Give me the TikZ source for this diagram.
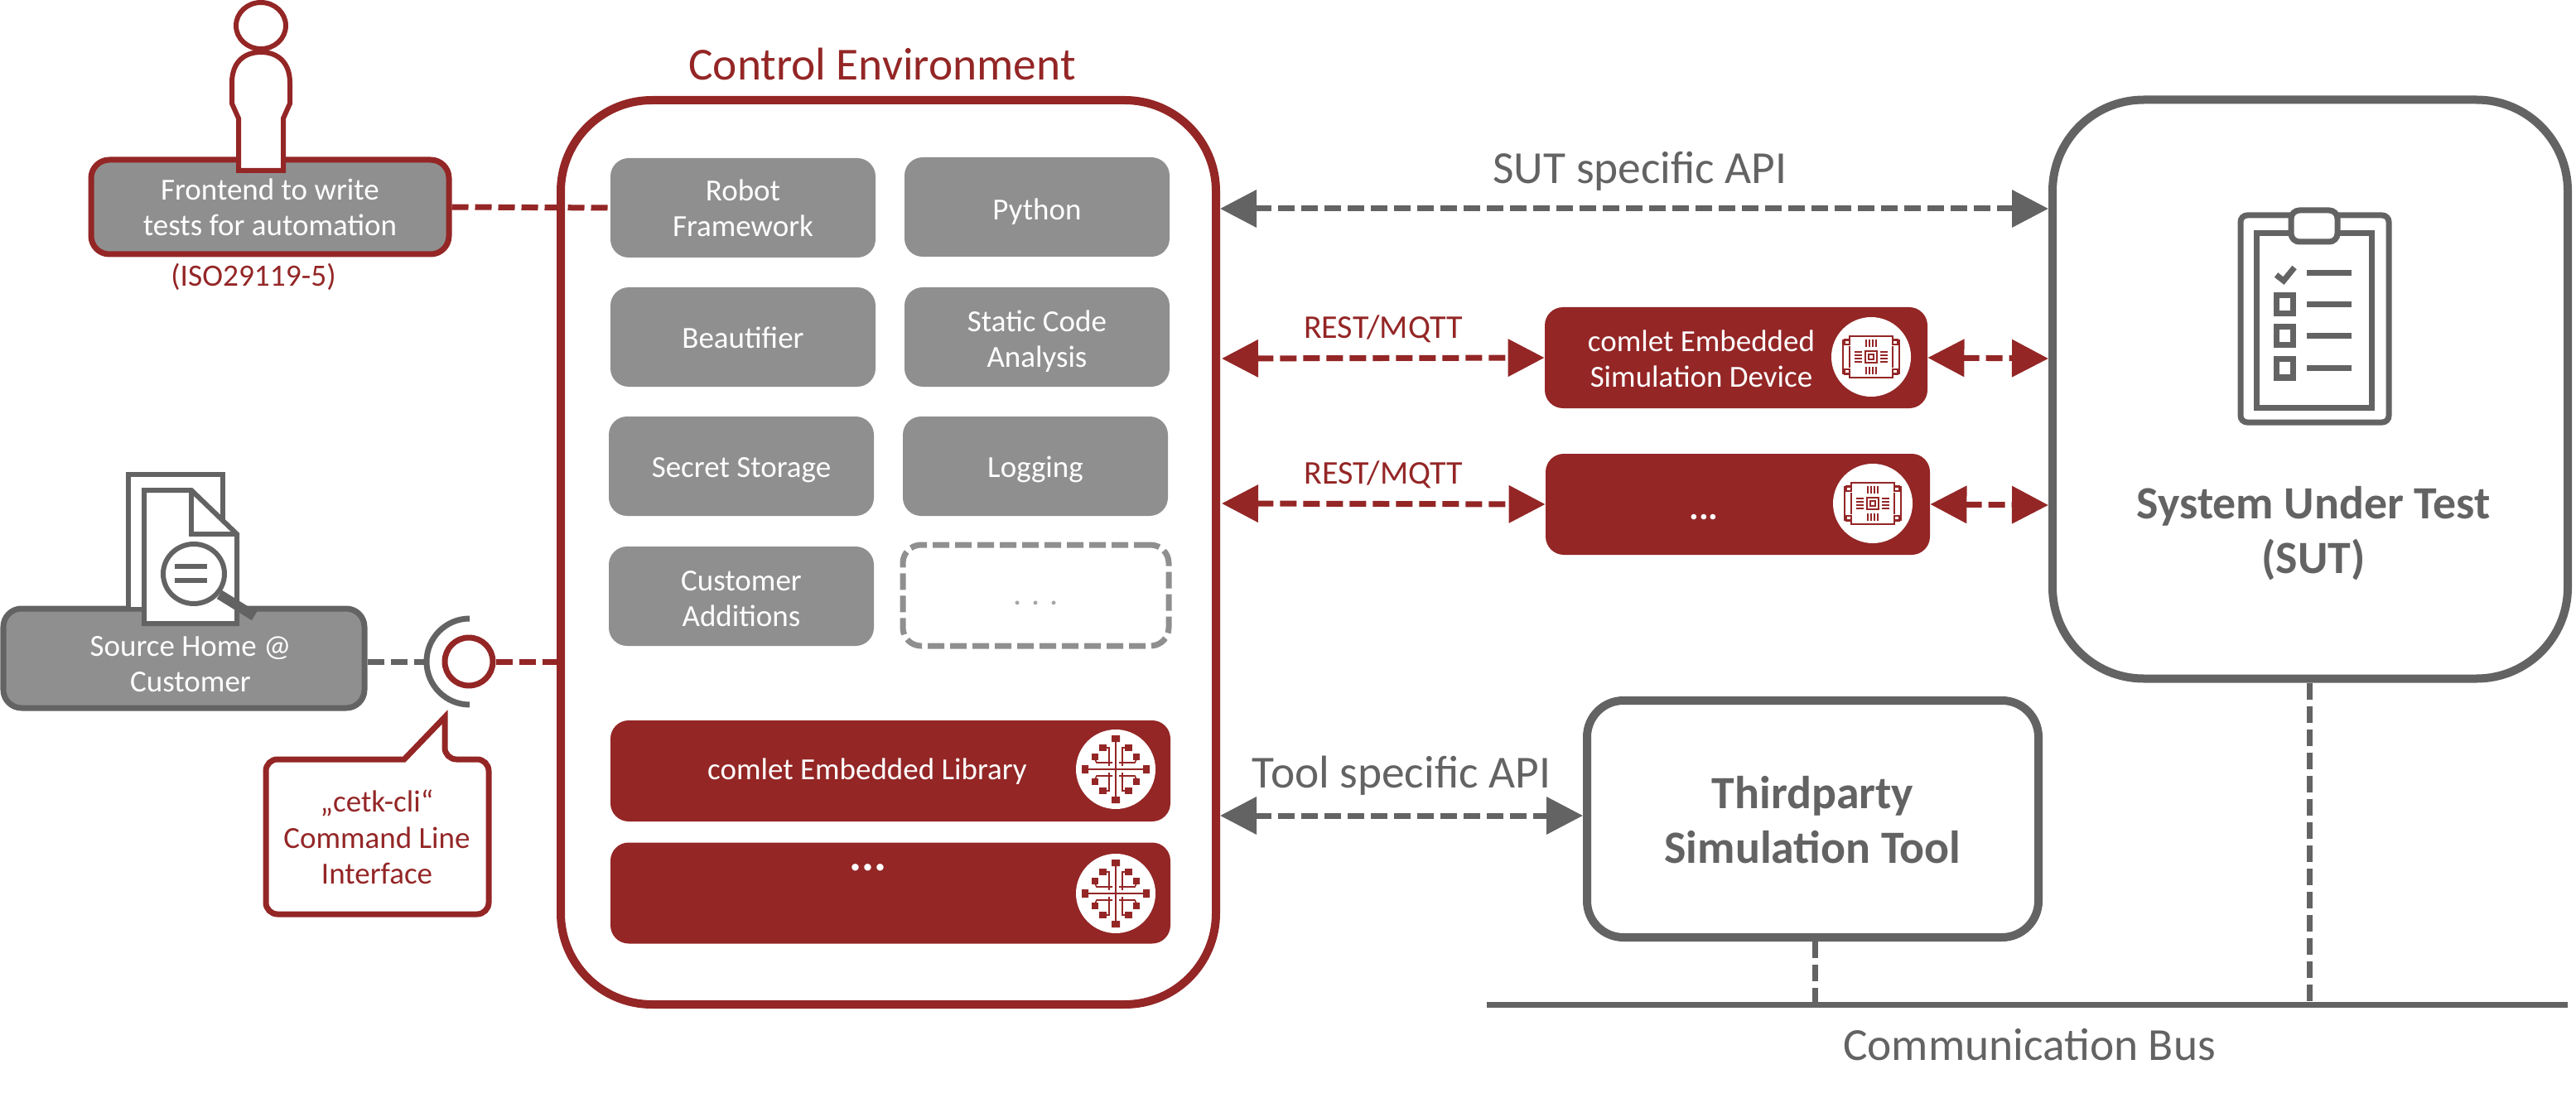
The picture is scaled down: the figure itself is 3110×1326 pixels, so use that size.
\documentclass[tikz,border=0pt]{standalone}
\usepackage{fontspec}
\setmainfont{Carlito}
\usetikzlibrary{arrows.meta}
\definecolor{darkred}{RGB}{148,38,38}
\definecolor{boxgray}{RGB}{143,143,143}
\definecolor{linegray}{RGB}{99,99,99}
\newcommand{\tall}[1]{\rule{0pt}{#1pt}}
\tikzset{
  bodyfont/.style={font=\fontsize{18.5}{21.5}\selectfont},
  bigfont/.style={font=\fontsize{27.7}{33}\selectfont},
  smallbox/.style={rounded corners=11pt,minimum width=160pt,minimum height=60pt,inner sep=0pt,align=center,text=white,bodyfont},
  graybox/.style={smallbox,fill=boxgray},
  redbox/.style={smallbox,fill=darkred},
  bigbox/.style={draw,line width=5pt,fill=white,inner sep=0pt,align=center},
  redcon/.style={draw=darkred,line width=3.5pt,dash pattern=on 10pt off 4pt},
  graycon/.style={draw=linegray,line width=3.5pt,dash pattern=on 10pt off 4pt},
  redtip/.style={{Triangle[length=22pt,width=22pt,fill=darkred]}-{Triangle[length=22pt,width=22pt,fill=darkred]}},
  graytip/.style={{Triangle[length=22pt,width=22pt,fill=linegray]}-{Triangle[length=22pt,width=22pt,fill=linegray]}},
}
% board icon in a white circle
\newcommand{\boardicon}[2]{
\begin{scope}[shift={(#1,#2)}]
\fill[white] (0,0) circle (24pt);
\draw[darkred,line width=1pt] (-34,-20)--(-26,-20)--(-26,-25)--(26,-25)--(26,-20)--(34,-20)--(34,20)--(26,20)--(26,25)--(-26,25)--(-26,20)--(-34,20)--cycle;
\foreach \sx in {-1,1} {
  \foreach \sy in {-1,1}
    \draw[darkred,line width=.8pt] (\sx*29-3,\sy*18-3) rectangle (\sx*29+3,\sy*18+3);
  \draw[darkred,line width=1.4pt] (\sx*26,-13)--(\sx*26,13);
  \foreach \d in {-6,-2,2,6} {
    \draw[darkred,line width=.7pt] (\sx*11,\d)--(\sx*20,\d);
    \draw[darkred,line width=.7pt] (\d,\sx*12)--(\d,\sx*21);
  }
}
\draw[darkred,line width=1pt] (-7,-7) rectangle (7,7);
\draw[darkred,line width=.8pt] (-3,-3) rectangle (3,3);
\end{scope}
}
% circuit icon in a white circle
\newcommand{\circuiticon}[2]{
\begin{scope}[shift={(#1,#2)}]
\fill[white] (0,0) circle (24pt);
\draw[darkred,line width=1.2pt] (-36,0)--(36,0) (0,-36)--(0,36);
\fill[darkred] (-41,-5) rectangle (-33,5) (33,-5) rectangle (41,5) (-5,-41) rectangle (5,-33) (-5,33) rectangle (5,41);
\foreach \sx in {-1,1}
  \foreach \sy in {-1,1} {
    \draw[darkred,line width=.8pt] (\sx*8,\sy*4)--(\sx*8,\sy*26)--(\sx*12,\sy*26);
    \draw[darkred,line width=.8pt] (\sx*4,\sy*8)--(\sx*23,\sy*8)--(\sx*25,\sy*12);
    \fill[darkred] (\sx*11,\sy*22) rectangle (\sx*20,\sy*30);
    \fill[darkred] (\sx*21,\sy*11) rectangle (\sx*29,\sy*19);
  }
\end{scope}
}

\begin{document}
\begin{tikzpicture}[x=0.5pt,y=-0.5pt]
\path[use as bounding box] (0,0) rectangle (3110,1326);

% control environment
\node (env) [bigbox,draw=darkred,minimum width=395.5pt,minimum height=546pt,rounded corners=55pt] at (1072.5,667) {};
\node (envtitle) [text=darkred,font=\fontsize{27.7}{33}\selectfont] at (1065,77) {Control Environment};
\node (robot) [graybox] at (897,251) {Robot\\Framework};
\node (python) [graybox] at (1252,250) {\tall{18}Python};
\node (beautifier) [graybox] at (897,407) {\tall{14}Beautifier};
\node (static) [graybox] at (1252,407) {\tall{18}Static Code\\Analysis};
\node (secret) [graybox] at (895,563) {\tall{17}Secret Storage};
\node (logging) [graybox] at (1250,563) {\tall{17}Logging};
\node (customer) [graybox] at (895,720) {\tall{15}Customer\\Additions};
\node (more) [smallbox,draw=boxgray,line width=3.5pt,dash pattern=on 10pt off 3.5pt,minimum width=160.5pt,minimum height=61pt,text=boxgray!80,font=\fontsize{20}{24}\selectfont] at (1250.5,719) {\tall{12}. . .};
\node (library) [redbox,minimum height=61pt,minimum width=338pt] at (1075,931) {};
\node (librarytext) [text=white,bodyfont] at (1047,932) {comlet Embedded Library};
\node (librarymore) [redbox,minimum height=61pt,minimum width=338pt] at (1075,1078.5) {};
\node (librarydots) [text=white,font=\fontsize{28}{32}\selectfont\bfseries] at (1048,1048) {...};
\circuiticon{1347}{929}
\circuiticon{1347}{1079}

% system under test
\node (sut) [bigbox,draw=linegray,minimum width=311pt,minimum height=349.5pt,rounded corners=55pt] at (2789,470) {};
\node (suttext) [text=linegray,font=\fontsize{27.9}{33}\selectfont\bfseries,align=center] at (2793,644) {System Under Test\\(SUT)};
\begin{scope}[draw=linegray,line width=3.5pt]
\draw[rounded corners=4pt] (2705,260) rectangle (2884,510);
\draw (2724,282) rectangle (2863,492);
\draw[fill=white,rounded corners=5pt] (2766,254) rectangle (2822,292);
\draw[line width=3.5pt] (2748,332)--(2757,339)--(2770,323);
\foreach \y in {368,406,445} \draw (2748,\y-11) rectangle (2768,\y+11);
\foreach \y in {330,368,406,445} \draw (2785,\y)--(2839,\y);
\end{scope}

% thirdparty tool and bus
\node (tool) [bigbox,draw=linegray,minimum width=272.5pt,minimum height=143pt,rounded corners=22pt,text=linegray,font=\fontsize{27.9}{33}\selectfont\bfseries] at (2188.5,989) {\tall{21}Thirdparty\\Simulation Tool};
\coordinate (busleft) at (1795,1213);
\coordinate (busright) at (3100,1213);
\draw[linegray,line width=3.5pt] (busleft) -- (busright);
\node (bustext) [text=linegray,bigfont] at (2450,1262) {Communication Bus};
\coordinate (bustool) at (2191,1213);
\coordinate (bussut) at (2788,1213);
\draw[graycon] (tool.south -| bustool) -- (bustool);
\draw[graycon] (sut.south -| bussut) -- (bussut);

% embedded devices
\node (device) [redbox,minimum width=231pt,minimum height=61pt] at (2096,432) {};
\node (devicetext) [text=white,bodyfont,align=center] at (2054,433) {comlet Embedded\\Simulation Device};
\node (devicemore) [redbox,minimum width=232pt,minimum height=61pt] at (2098,609) {};
\node (devicedots) [text=white,font=\fontsize{22}{26}\selectfont\bfseries] at (2057,625) {...};
\boardicon{2259}{431}
\boardicon{2261}{608}

% connectors to the right
\coordinate (envapi) at (1473,252);
\coordinate (sutapi) at (2473,252);
\draw[graycon,graytip] (envapi) -- node[above=5.5pt,xshift=3.5pt,text=linegray,bigfont] (apilabel) {SUT specific API} (sutapi);
\coordinate (envdev) at (1475,433);
\draw[redcon,redtip] (envdev) -- node[above=4.5pt,text=darkred,font=\fontsize{20}{24}\selectfont] (restone) {REST/MQTT} (device.west);
\coordinate (envmore) at (1475,608);
\draw[redcon,redtip] (envmore) -- node[above=4.5pt,text=darkred,font=\fontsize{20}{24}\selectfont] (resttwo) {REST/MQTT} (devicemore.west);
\coordinate (sutdev) at (2473,433);
\draw[redcon,redtip] (device.east) -- (sutdev);
\coordinate (sutmore) at (2473,610);
\draw[redcon,redtip] (devicemore.east) -- (sutmore);
\coordinate (envtool) at (1473,985);
\draw[graycon,graytip] (envtool) -- (tool.west |- envtool);
\node (toollabel) [text=linegray,bigfont] at (1692,937) {Tool specific API};

% frontend with person
\node (frontend) [graybox,draw=darkred,line width=3.5pt,minimum width=216pt,minimum height=57pt] at (326,250) {Frontend to write\\tests for automation};
\node (iso) [text=darkred,font=\fontsize{18.7}{22}\selectfont] at (306,334) {(ISO29119-5)};
\draw[redcon] (frontend.east) -- (robot.west);
\draw[darkred,line width=3pt,fill=white] (315,31) ellipse (15pt and 14pt);
\draw[darkred,line width=3pt,fill=white] (288,206) -- (288,143) -- (280,125) -- (280,100)
  .. controls (280,75) and (295,63) .. (315,63) .. controls (335,63) and (350,75) .. (350,100)
  -- (350,125) -- (342,143) -- (342,206) -- cycle;

% source home with documents
\node (source) [graybox,draw=linegray,line width=3.5pt,minimum width=218pt,minimum height=60pt] at (222,795) {};
\node (sourcetext) [text=white,bodyfont,align=center] at (230,802) {Source Home @\\Customer};
\draw[linegray,line width=3pt,fill=white] (155,733) -- (155,573) -- (269,573) -- (269,733);
\draw[linegray,line width=3pt,fill=white] (174,753) -- (174,592) -- (231,592) -- (286,645) -- (286,753) -- cycle;
\draw[linegray,line width=3pt] (231,592) -- (231,645) -- (286,645);
\draw[linegray,line width=6pt] (265,718) -- (307,744);
\draw[linegray,line width=3pt,fill=white] (234,693) ellipse (18.5pt and 18pt);
\draw[linegray,line width=3pt] (211,684) -- (250,684) (211,701) -- (250,701);

% interface between source home and environment
\coordinate (socket) at (567,799);
\node (plug) [draw=darkred,line width=3.5pt,circle,inner sep=0pt,minimum size=29pt] at (566,799) {};
\draw[linegray,line width=3.5pt] (567,747) arc (90:270:26pt);
\coordinate (socketleft) at (515,799);
\draw[graycon] (source.east |- socketleft) -- (socketleft);
\coordinate (envleft) at (674,799);
\draw[redcon] (plug.east) -- (envleft);

% callout
\draw[darkred,line width=3.5pt] [rounded corners=7pt] (488,917) -- (321,917) -- (321,1104) -- (590,1104) -- (590,917) -- (537,917) [sharp corners] -- (537,866) -- cycle;
\node (cli) [text=darkred,align=center,font=\fontsize{18.5}{21.7}\selectfont] at (455,1011) {„cetk-cli“\\Command Line\\Interface};
\end{tikzpicture}
\end{document}
